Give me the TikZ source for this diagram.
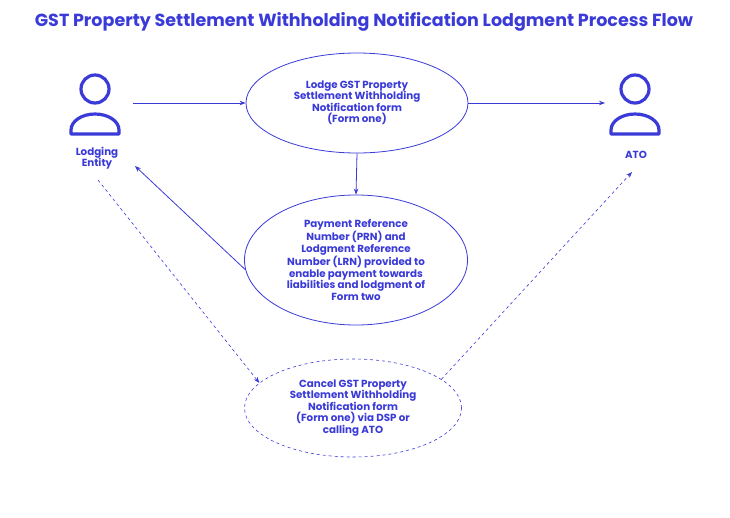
\documentclass[tikz,border=0pt]{standalone}
\usepackage{fontspec}
\setmainfont{Poppins}
\usetikzlibrary{shapes.geometric, arrows.meta, positioning}
\definecolor{flow}{HTML}{3A3AD8}

\begin{document}
\begin{tikzpicture}[x=1pt, y=-1pt,
  usecase/.style={draw=flow, thick, ellipse, align=center, inner sep=0pt,
                  font=\fontsize{10.3}{11.5}\selectfont\bfseries, text=flow},
  actor/.style={font=\fontsize{10.3}{11.5}\selectfont\bfseries, text=flow, align=center},
  arr/.style={-{Stealth[length=6pt]}, thick, draw=flow},
  darr/.style={arr, semithick, dashed},
]
  \useasboundingbox (0,0) rectangle (730,517);

  % Title
  \node[font=\fontsize{17.5}{20}\selectfont\bfseries, text=flow] (title) at (364,22)
    {GST Property Settlement Withholding Notification Lodgment Process Flow};

  % Actors
  \foreach \cx in {95, 635} {
    \draw[flow, line width=3.2pt] (\cx,89) circle (14);
    \draw[flow, line width=3.2pt, line join=round] (\cx-24,134) -- (\cx-24,130)
      arc[start angle=180, end angle=0, x radius=24, y radius=-16] -- (\cx+24,134) -- cycle;
  }
  \coordinate (lodgerE) at (133,103);
  \coordinate (lodgerNE) at (135,166);
  \coordinate (lodgerS) at (98,180);
  \coordinate (atoW) at (605,103);
  \coordinate (atoS) at (632,172);
  \node[actor] (lodgerlbl) at (97,158) {Lodging\\Entity};
  \node[actor] (atolbl) at (636,155) {ATO};

  % Use cases
  \node[usecase, minimum width=222, minimum height=100] (lodge) at (357,103)
    {Lodge GST Property\\Settlement Withholding\\Notification form\\(Form one)};
  \node[usecase, minimum width=223, minimum height=130] (prn) at (356,260)
    {Payment Reference\\Number (PRN) and\\Lodgment Reference\\Number (LRN) provided to\\enable payment towards\\liabilities and lodgment of\\Form two};
  \node[usecase, dashed, semithick, minimum width=217, minimum height=98] (cancel) at (353,408)
    {Cancel GST Property\\Settlement Withholding\\Notification form\\(Form one) via DSP or\\calling ATO};

  % Arrows
  \draw[arr] (lodgerE) -- (lodge.west);
  \draw[arr] (lodge.east) -- (atoW);
  \draw[arr] (lodge.south) -- (prn.north);
  \draw[arr] (prn.185) -- (lodgerNE);
  \draw[darr] (lodgerS) -- (cancel.165);
  \draw[darr] (cancel.18) -- (atoS);
\end{tikzpicture}
\end{document}
